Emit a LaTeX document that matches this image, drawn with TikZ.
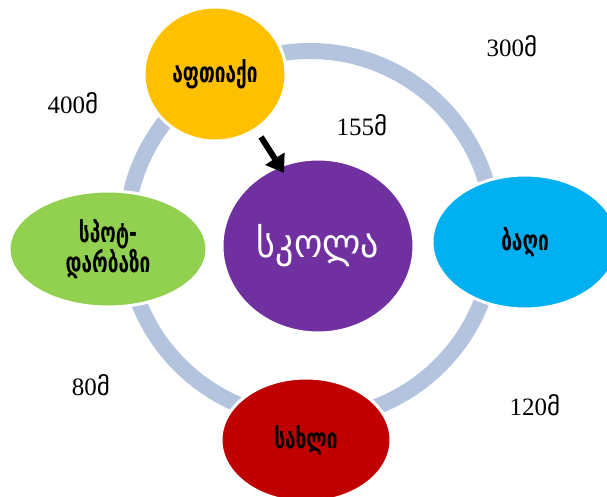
\documentclass[tikz,border=0pt]{standalone}
\usepackage{fontspec}
\setmainfont{Liberation Serif}
\newfontfamily\geo{DejaVu Sans}
\newfontfamily\geob{DejaVu Sans Bold}[FakeStretch=0.68]
\newfontfamily\geos{DejaVu Sans}[FakeStretch=0.9]
\usetikzlibrary{arrows.meta,shapes.geometric}
\definecolor{ringc}{RGB}{180,196,222}
\definecolor{yel}{RGB}{255,192,0}
\definecolor{grn}{RGB}{146,208,80}
\definecolor{pur}{RGB}{112,48,160}
\definecolor{blu}{RGB}{0,176,240}
\definecolor{rd}{RGB}{192,0,0}
\tikzset{
  place/.style={ellipse, draw=white, line width=3pt, inner sep=0pt, align=center, font=\geob\fontsize{28}{30}\selectfont},
  dist/.style={font=\fontsize{25}{27}\selectfont, inner sep=0pt}
}
\begin{document}
\begin{tikzpicture}[x=1pt,y=-1pt]
\useasboundingbox (0,0) rectangle (607,497);
\begin{scope}
\clip (0,0) rectangle (607,497);
\draw[ringc, line width=16pt] (310,235) circle[radius=184];
\node[place, fill=yel, minimum width=142, minimum height=134] (apt) at (215,74) {აფთიაქი};
\node[place, fill=grn, minimum width=198, minimum height=116] (gym) at (108,249) {სპოტ-\\დარბაზი};
\node[place, fill=pur, minimum width=192, minimum height=174, text=white, font=\geos\fontsize{40}{44}\selectfont] (sch) at (318,246) {სკოლა};
\node[place, fill=blu, minimum width=186, minimum height=134] (gar) at (525,242) {ბაღი};
\node[place, fill=rd, minimum width=170, minimum height=124] (hom) at (306,440) {სახლი};
\end{scope}
\coordinate (as) at (261,137);
\coordinate (ae) at (284,173);
\draw[line width=6pt, -{Triangle[length=17pt,width=22pt]}] (as) -- (ae);
\node[dist] (d1) at (512,46) {300{\geo მ}};
\node[dist] (d2) at (73,103) {400{\geo მ}};
\node[dist] (d3) at (362,125) {155{\geo მ}};
\node[dist] (d4) at (91,385) {80{\geo მ}};
\node[dist] (d5) at (535,405) {120{\geo მ}};
\end{tikzpicture}
\end{document}
